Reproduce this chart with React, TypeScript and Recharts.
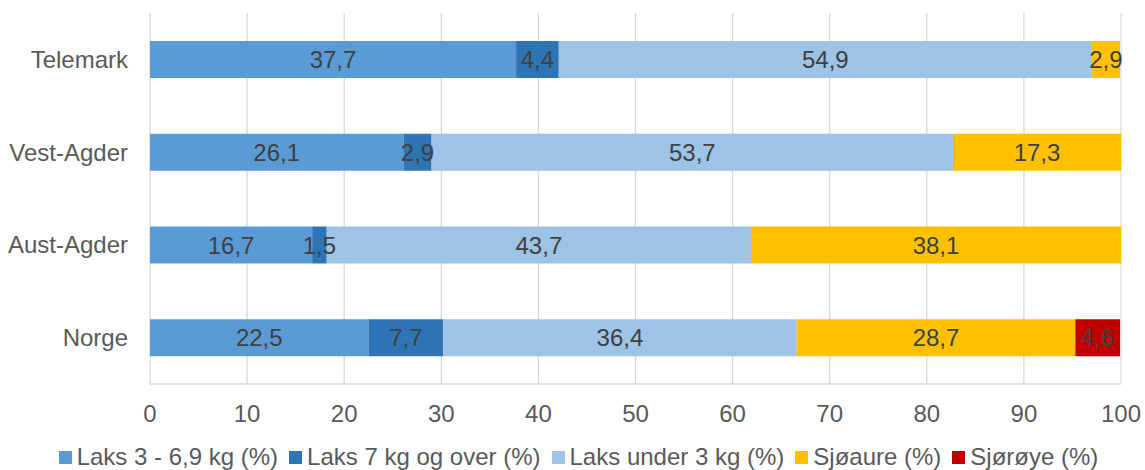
import { BarChart, Bar, XAxis, YAxis, CartesianGrid, Legend, LabelList } from 'recharts';

const regions = ['Telemark', 'Vest-Agder', 'Aust-Agder', 'Norge'];
const laks3to69 = [37.7, 26.1, 16.7, 22.5];
const laks7over = [4.4, 2.9, 1.5, 7.7];
const laksUnder3 = [54.9, 53.7, 43.7, 36.4];
const sjoaure = [2.9, 17.3, 38.1, 28.7];
const sjoroye: (number | null)[] = [null, null, null, 4.6];
const xTicks = [0, 10, 20, 30, 40, 50, 60, 70, 80, 90, 100];

const SERIES = [
  { key: 'a', name: 'Laks 3 - 6,9 kg (%)', color: '#5B9BD5' },
  { key: 'b', name: 'Laks 7 kg og over (%)', color: '#2E75B6' },
  { key: 'c', name: 'Laks under 3 kg (%)', color: '#9DC3E6' },
  { key: 'd', name: 'Sjøaure (%)', color: '#FFC000' },
  { key: 'e', name: 'Sjørøye (%)', color: '#C00000' },
];

const data = regions.map((name, i) => ({
  name,
  a: laks3to69[i],
  b: laks7over[i],
  c: laksUnder3[i],
  d: sjoaure[i],
  e: sjoroye[i],
}));

const FONT = '"Liberation Sans", Arial, sans-serif';

function fmt(v: unknown) {
  if (v == null || v === '') return '';
  return Number(v).toFixed(1).replace('.', ',');
}

function ChartLegend() {
  return (
    <div
      style={{
        display: 'flex',
        justifyContent: 'center',
        alignItems: 'center',
        height: 26,
        paddingLeft: 23,
        fontSize: 24,
        color: '#595959',
        fontFamily: FONT,
        whiteSpace: 'nowrap',
      }}
    >
      {SERIES.map((s) => (
        <span key={s.key} style={{ display: 'flex', alignItems: 'center', marginRight: 11 }}>
          <span style={{ width: 13, height: 13, background: s.color, marginRight: 5, display: 'inline-block' }} />
          {s.name}
        </span>
      ))}
    </div>
  );
}

export default function App() {
  return (
    <div style={{ position: 'absolute', left: 0, top: 0, background: '#fff', fontFamily: FONT }}>
      <BarChart
        width={1145}
        height={470}
        data={data}
        layout="vertical"
        margin={{ top: 13, right: 24, left: 0, bottom: 0 }}
      >
        <CartesianGrid horizontal={false} stroke="#d9d9d9" strokeWidth={1.3} />
        <XAxis
          type="number"
          domain={[0, 100]}
          ticks={xTicks}
          interval={0}
          height={60}
          tickSize={0}
          tickMargin={21}
          axisLine={{ stroke: '#d9d9d9', strokeWidth: 1.3 }}
          tickLine={false}
          tick={{ fontSize: 24, fill: '#595959', fontFamily: FONT }}
        />
        <YAxis
          type="category"
          dataKey="name"
          width={150}
          tickSize={0}
          tickMargin={22}
          axisLine={false}
          tickLine={false}
          tick={{ fontSize: 24, fill: '#595959', fontFamily: FONT }}
        />
        <Legend
          verticalAlign="bottom"
          wrapperStyle={{ left: 0, width: 1145 }}
          content={() => <ChartLegend />}
        />
        {SERIES.map((s) => (
          <Bar
            key={s.key}
            dataKey={s.key}
            name={s.name}
            stackId="x"
            fill={s.color}
            barSize={37}
            isAnimationActive={false}
          >
            <LabelList
              dataKey={s.key}
              position="center"
              formatter={fmt}
              style={{ fontSize: 24, fill: '#404040', fontFamily: FONT }}
            />
          </Bar>
        ))}
      </BarChart>
    </div>
  );
}
